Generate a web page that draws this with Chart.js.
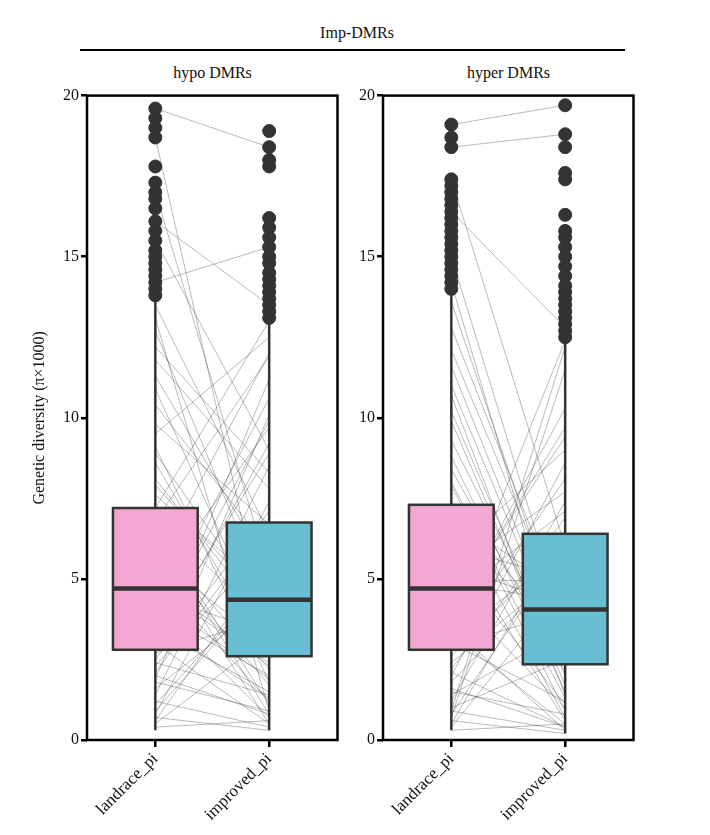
<!DOCTYPE html>
<html><head><meta charset="utf-8">
<script src="https://cdn.jsdelivr.net/npm/chart.js@4"></script>
<style>
body{margin:0;width:710px;height:835px;background:#fff;position:relative;font-family:"Liberation Serif",serif;}
.t{position:absolute;font-size:16px;color:#111;}
</style></head><body>
<div class="t" style="left:0;width:714px;text-align:center;top:24px;">Imp-DMRs</div>
<div style="position:absolute;left:80px;width:545px;top:49px;border-top:2px solid #000;"></div>
<div class="t" style="left:87px;width:251px;text-align:center;top:64px;">hypo DMRs</div>
<div class="t" style="left:383px;width:251px;text-align:center;top:64px;">hyper DMRs</div>
<div style="position:absolute;left:0;top:84px;width:345px;height:751px;"><canvas id="c1"></canvas></div>
<div style="position:absolute;left:340px;top:84px;width:301px;height:751px;"><canvas id="c2"></canvas></div>
<script>
const categories=['landrace_pi','improved_pi'];
const yTicks=[0,5,10,15,20];
// box stats [whiskerLow,Q1,median,Q3,whiskerHigh]
const hypoLandraceBox=[0.3,2.8,4.7,7.2,13.7];
const hypoImprovedBox=[0.3,2.6,4.35,6.75,13.0];
const hyperLandraceBox=[0.3,2.8,4.7,7.3,14.0];
const hyperImprovedBox=[0.2,2.35,4.05,6.4,12.4];
const hypoLandraceOut=[13.8,14.0,14.2,14.4,14.6,14.8,15.0,15.2,15.5,15.8,16.1,16.5,16.8,17.0,17.3,17.8,18.7,19.0,19.3,19.6];
const hypoImprovedOut=[13.1,13.3,13.5,13.7,13.9,14.1,14.3,14.5,14.8,15.0,15.3,15.6,15.9,16.2,17.8,18.0,18.4,18.9];
const hyperLandraceOut=[14.0,14.2,14.4,14.6,14.8,15.0,15.2,15.4,15.6,15.8,16.0,16.2,16.4,16.6,16.8,17.0,17.2,17.4,18.4,18.7,19.1];
const hyperImprovedOut=[12.5,12.7,12.9,13.1,13.3,13.5,13.7,13.9,14.1,14.4,14.7,15.0,15.3,15.6,15.8,16.3,17.4,17.6,18.4,18.8,19.7];
const hypoPairL=[0.5,1.2,2.1,3.4,4.8,6.2,7.9,9.5,11.3,13.1,0.8,2.7,5.1,3.9,8.6,10.4,12.2,1.6,4.2,6.8,2.3,5.7,7.2,9.1,3.1,1.1,4.5,6.1,11.8,2.9,0.9,3.6,5.4,8.1,13.5,1.9,4.0,7.6,2.5,6.5,10.9,3.3,0.6,5.9,12.7,1.4,4.7,2.8,9.8,7.0,17.0,19.6,15.5,14.2,18.7,16.1,0.4,1.8,2.4,3.0,5.0,6.6,8.9,0.7,2.0,4.4];
const hypoPairI=[3.2,0.4,6.8,1.5,9.7,2.2,4.1,12.5,5.3,0.9,7.4,3.8,1.2,10.6,2.6,5.9,8.3,4.4,0.7,11.9,6.1,2.9,13.0,1.8,8.9,5.0,3.3,0.5,7.8,9.2,4.9,1.3,12.0,3.6,6.4,10.1,2.0,4.6,7.1,0.8,3.0,9.9,5.6,1.7,4.2,8.5,2.4,11.2,6.7,3.5,5.2,18.4,9.0,15.3,3.1,13.5,0.6,0.9,1.4,0.5,2.3,1.1,3.9,0.3,0.8,1.9];
const hyperPairL=[1.0,3.5,0.4,5.6,2.2,7.4,4.1,9.9,1.8,6.3,12.8,3.0,8.4,0.7,4.9,2.6,10.7,5.2,1.4,7.9,3.8,11.6,6.0,0.9,2.9,8.8,4.4,13.6,1.6,5.8,3.2,9.3,6.9,2.0,4.6,12.1,0.5,7.1,3.6,10.2,5.0,1.2,8.0,2.4,6.6,4.0,11.0,3.3,0.8,5.4,17.4,19.1,15.0,16.4,14.2,18.4,0.3,0.6,1.5,2.1,3.0,0.9];
const hyperPairI=[2.5,0.3,4.8,1.1,6.9,3.0,9.4,1.7,5.5,0.6,3.9,8.1,2.1,11.5,4.3,6.2,1.4,7.7,3.4,0.9,10.3,2.8,5.0,12.2,4.0,1.5,7.1,3.2,0.4,9.0,5.8,2.3,4.6,8.6,1.0,3.7,6.5,0.7,12.4,2.0,4.9,7.4,1.3,5.3,3.1,9.7,2.6,0.5,6.0,4.2,6.0,19.7,3.5,12.8,2.2,18.8,0.5,0.2,0.8,0.4,1.2,0.3];

const boxPlugin={id:'box',afterDatasetsDraw(ch){
  const o=ch.options.plugins.box,x=ch.scales.x,y=ch.scales.y,c=ch.ctx;
  o.stats.forEach((s,i)=>{
    const lf=x.getPixelForValue(i-0.372),w=x.getPixelForValue(i+0.372)-lf;
    const t=y.getPixelForValue(s[3]),h=y.getPixelForValue(s[1])-t;
    c.save();c.strokeStyle='#333';c.lineWidth=2.5;c.fillStyle=o.colors[i];
    c.fillRect(lf,t,w,h);c.strokeRect(lf,t,w,h);
    c.lineWidth=4.5;c.beginPath();c.moveTo(lf,y.getPixelForValue(s[2]));c.lineTo(lf+w,y.getPixelForValue(s[2]));c.stroke();
    c.restore();
  });
  const ca=ch.chartArea;c.save();c.strokeStyle='#000';c.lineWidth=2.5;c.strokeRect(ca.left,ca.top,ca.right-ca.left,ca.bottom-ca.top);c.restore();
},beforeDatasetsDraw(ch){
  const o=ch.options.plugins.box,x=ch.scales.x,y=ch.scales.y,c=ch.ctx;
  c.save();c.strokeStyle='#333';c.lineWidth=2.5;
  o.stats.forEach((s,i)=>{const cx=x.getPixelForValue(i);c.beginPath();c.moveTo(cx,y.getPixelForValue(s[0]));c.lineTo(cx,y.getPixelForValue(s[4]));c.stroke();});
  c.restore();
}};

function make(id,L,I,lb,ib,lo,io,showTitle,yW,padL){
  const ds=[];
  L.forEach((v,k)=>ds.push({type:'line',data:[{x:0,y:v},{x:1,y:I[k]}],borderColor:'rgba(40,40,40,0.4)',borderWidth:0.8,pointRadius:0,order:3}));
  ds.push({type:'scatter',data:lo.map(v=>({x:0,y:v})).concat(io.map(v=>({x:1,y:v}))),backgroundColor:'#333',borderColor:'#333',pointRadius:6.5,order:0});
  new Chart(document.getElementById(id),{type:'scatter',data:{datasets:ds},plugins:[boxPlugin],
  options:{responsive:true,maintainAspectRatio:false,animation:false,
    layout:{padding:{left:padL,right:7,top:10,bottom:0}},
    plugins:{legend:{display:false},tooltip:{enabled:false},box:{stats:[lb,ib],colors:['#F2A8D3','#68BED3']}},
    scales:{x:{type:'linear',min:-0.6,max:1.6,afterBuildTicks:a=>{a.ticks=[{value:0},{value:1}];},afterFit:a=>{a.height=95;},
        grid:{display:true,drawOnChartArea:false,tickLength:7,color:'#000',lineWidth:2.5},border:{display:false},
        ticks:{color:'#111',maxRotation:45,minRotation:45,autoSkip:false,padding:2,callback:v=>categories[v],font:{family:'Liberation Serif',size:17}}},
      y:{min:0,max:20,afterBuildTicks:a=>{a.ticks=yTicks.map(v=>({value:v}));},afterFit:a=>{a.width=yW;},
        grid:{display:true,drawOnChartArea:false,tickLength:6,color:'#000',lineWidth:2.5},border:{display:false},
        ticks:{color:'#111',padding:2,font:{family:'Liberation Serif',size:16}},
        title:{display:showTitle,text:'Genetic diversity (π×1000)',color:'#111',font:{family:'Liberation Serif',size:16}}}}}});
}
make('c1',hypoPairL,hypoPairI,hypoLandraceBox,hypoImprovedBox,hypoLandraceOut,hypoImprovedOut,true,61,26);
make('c2',hyperPairL,hyperPairI,hyperLandraceBox,hyperImprovedBox,hyperLandraceOut,hyperImprovedOut,false,43,0);
</script></body></html>
